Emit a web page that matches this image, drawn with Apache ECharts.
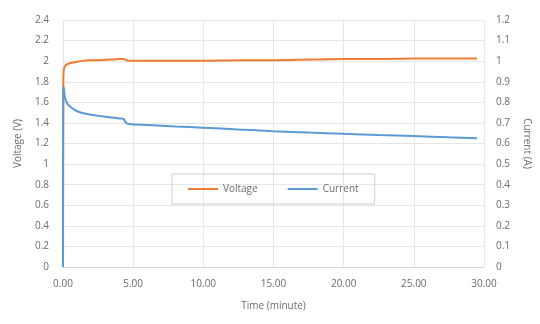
<!DOCTYPE html>
<html><head><meta charset="utf-8">
<script src="https://cdn.jsdelivr.net/npm/echarts@6/dist/echarts.min.js"></script>
<style>html,body{margin:0;padding:0;background:#fff}#c{width:540px;height:324px}</style>
</head><body><div id="c"></div>
<script>
var time    = [0, 0.02, 0.05, 0.1, 0.2, 0.3, 0.5, 0.8, 1.2, 1.8, 2.5, 3.3, 4.0, 4.3, 4.5, 4.7, 6, 8, 10, 12.5, 15, 17.5, 20, 22.5, 25, 27.5, 29.5];
var voltage = [0, 1.80, 1.91, 1.94, 1.96, 1.97, 1.98, 1.99, 2.00, 2.01, 2.01, 2.015, 2.02, 2.02, 2.01, 2.005, 2.005, 2.005, 2.005, 2.01, 2.01, 2.015, 2.02, 2.02, 2.025, 2.025, 2.025];
var current = [0, 0.87, 0.875, 0.84, 0.81, 0.795, 0.78, 0.765, 0.752, 0.742, 0.735, 0.728, 0.722, 0.72, 0.70, 0.695, 0.69, 0.683, 0.677, 0.668, 0.66, 0.653, 0.647, 0.641, 0.636, 0.63, 0.626];
var xTicks = ['0.00','5.00','10.00','15.00','20.00','25.00','30.00'];

var vData = time.map(function(t,i){return [t, voltage[i]];});
var cData = time.map(function(t,i){return [t, current[i]];});
var lab = {color:'#6b6b6b', fontSize:10, fontFamily:'Open Sans'};
var chart = echarts.init(document.getElementById('c'));
chart.setOption({
  animation:false,
  grid:{left:63, right:53, top:20, bottom:57},
  legend:{
    data:['Voltage','Current'], left:172, top:174, width:200, height:32,
    padding:[10,16], itemGap:30, itemWidth:30, itemHeight:2,
    borderColor:'#d0d0d0', borderWidth:1, icon:'rect',
    textStyle:{color:'#6b6b6b', fontSize:10, fontFamily:'Open Sans'}
  },
  xAxis:{type:'value', min:0, max:30, interval:5,
    name:'Time (minute)', nameLocation:'middle', nameGap:34,
    nameTextStyle:{color:'#6b6b6b', fontSize:10, fontFamily:'Open Sans'},
    axisLine:{lineStyle:{color:'#d9d9d9'}}, axisTick:{show:false},
    axisLabel:Object.assign({margin:12, formatter:function(v){return xTicks[Math.round(v/5)];}}, lab),
    splitLine:{lineStyle:{color:'#e6e6e6'}}},
  yAxis:[
    {type:'value', min:0, max:2.4, interval:0.2, name:'Voltage (V)', nameLocation:'middle', nameGap:40,
     nameTextStyle:{color:'#6b6b6b', fontSize:10, fontFamily:'Open Sans'},
     axisLine:{show:false}, axisTick:{show:false},
     axisLabel:Object.assign({margin:14, formatter:function(v){return String(Math.round(v*10)/10);}}, lab),
     splitLine:{lineStyle:{color:'#e6e6e6'}}},
    {type:'value', min:0, max:1.2, interval:0.1, name:'Current (A)', nameLocation:'middle', nameGap:38,
     nameRotate:-90,
     nameTextStyle:{color:'#6b6b6b', fontSize:10, fontFamily:'Open Sans'},
     axisLine:{show:false}, axisTick:{show:false},
     axisLabel:Object.assign({margin:12, formatter:function(v){return String(Math.round(v*10)/10);}}, lab),
     splitLine:{show:false}}
  ],
  series:[
    {name:'Voltage', type:'line', yAxisIndex:0, data:vData, showSymbol:false, smooth:0.3,
     lineStyle:{color:'#ed7d31', width:2}, itemStyle:{color:'#ed7d31'}},
    {name:'Current', type:'line', yAxisIndex:1, data:cData, showSymbol:false, smooth:0.3,
     lineStyle:{color:'#5b9bd5', width:2}, itemStyle:{color:'#5b9bd5'}}
  ]
});
</script></body></html>
